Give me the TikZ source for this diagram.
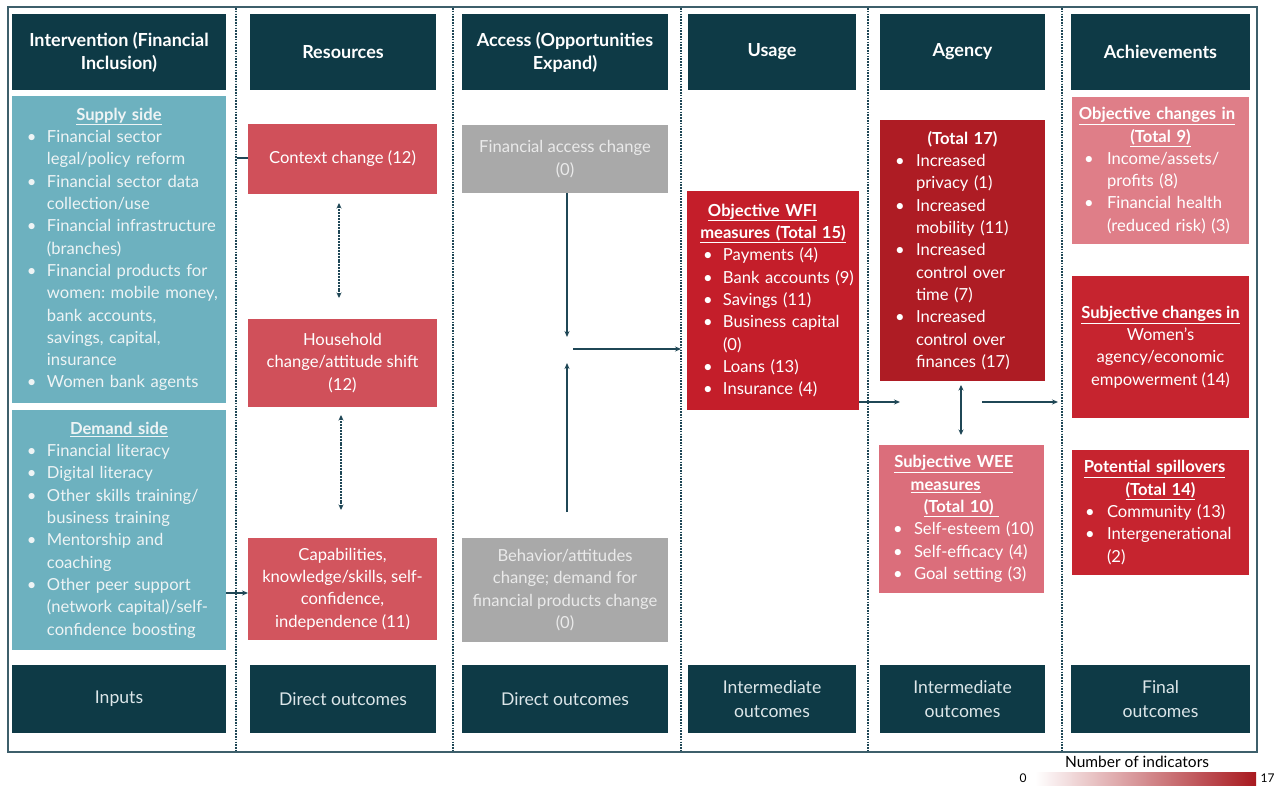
\documentclass[tikz,border=0pt]{standalone}
\usepackage{fontspec}
\setmainfont{Lato}
\usetikzlibrary{arrows.meta}
\definecolor{hdr}{HTML}{0E3A46}
\definecolor{tealc}{HTML}{6DB1BF}
\definecolor{tltxt}{HTML}{EEF4F5}
\definecolor{ftxt}{HTML}{DCE6E9}
\definecolor{rtwelve}{HTML}{D0505A}
\definecolor{releven}{HTML}{D2555E}
\definecolor{gry}{HTML}{A9A9A9}
\definecolor{gtxt}{HTML}{EAEAEA}
\definecolor{rfifteen}{HTML}{C41E2A}
\definecolor{rseventeen}{HTML}{AE1C24}
\definecolor{rten}{HTML}{DB6E7B}
\definecolor{rnine}{HTML}{DF7E88}
\definecolor{rfourteen}{HTML}{C6242F}
\definecolor{arrc}{HTML}{1F4756}
\definecolor{bordc}{HTML}{3D5F6B}
\definecolor{legred}{HTML}{A8191F}
\newlength\bulx
\newlength\txtx
\newcommand\nl{\hfil\break}
\newcommand\li[1]{\par\hangindent=\txtx\hangafter=1\noindent\hbox to\txtx{\hskip\bulx\textbullet\hss}#1}
\newcommand\ttl[1]{{\centering\bfseries #1\par}}
\begin{document}
\begin{tikzpicture}[x=1pt,y=-1pt,
  bx/.style={rectangle, inner sep=0pt, outer sep=0pt, text=white},
  hd/.style={bx, fill=hdr, minimum height=76pt, align=center, font=\bfseries\fontsize{18}{23}\selectfont},
  ft/.style={bx, fill=hdr, minimum height=68pt, align=center, text=ftxt, font=\fontsize{17.6}{24}\selectfont},
  lst/.style={bx, align=left, font=\fontsize{16.6}{22.3}\selectfont\setlength\parindent{0pt}\setlength\parskip{0pt}},
  ctr/.style={bx, align=center, font=\fontsize{16.6}{22.3}\selectfont},
  arw/.style={draw=arrc, line width=1.3pt, -{Stealth[length=6pt,width=5pt]}},
  darw/.style={draw=arrc, line width=1.4pt, {Stealth[length=5.5pt,width=5pt]}-{Stealth[length=5.5pt,width=5pt]}},
  dotarw/.style={draw=arrc, line width=1.8pt, dash pattern=on 2pt off 0.9pt, {Stealth[length=5.5pt,width=5pt]}-{Stealth[length=5.5pt,width=5pt]}},
  divl/.style={draw=arrc, line width=1.4pt, dash pattern=on 1.6pt off 1.2pt}
]
\useasboundingbox (0,0) rectangle (1276,785);
\fill[white] (0,0) rectangle (1276,785);
% outer border
\draw[bordc, line width=1.5pt] (8,7) rectangle (1257,752);
% dividers
\foreach \xx in {236,453,681,868,1062}{\draw[divl] (\xx,8) -- (\xx,751);}
% headers
\node[hd, minimum width=214pt] (h1) at (119,52) {Intervention (Financial\\Inclusion)};
\node[hd, minimum width=186pt] (h2) at (343,52) {Resources};
\node[hd, minimum width=206pt] (h3) at (565,52) {Access (Opportunities\\Expand)};
\node[hd, minimum width=168pt] (h4) at (772,52) {Usage};
\node[hd, minimum width=165pt] (h5) at (962.5,52) {Agency};
\node[hd, minimum width=179pt] (h6) at (1160.5,52) {Achievements};
% footers
\node[ft, minimum width=214pt] (f1) at (119,699) {Inputs};
\node[ft, minimum width=186pt] (f2) at (343,699) {Direct outcomes};
\node[ft, minimum width=206pt] (f3) at (565,699) {Direct outcomes};
\node[ft, minimum width=168pt] (f4) at (772,699) {Intermediate\\outcomes};
\node[ft, minimum width=165pt] (f5) at (962.5,699) {Intermediate\\outcomes};
\node[ft, minimum width=179pt] (f6) at (1160.5,699) {Final\\outcomes};
% intervention
\node[lst, fill=tealc, text=tltxt, text width=214pt, minimum height=307pt] (sup) at (119,249.5)
 {\setlength\bulx{15pt}\setlength\txtx{35pt}\ttl{\underline{Supply side}}%
  \li{Financial sector\nl legal/policy reform}%
  \li{Financial sector data\nl collection/use}%
  \li{Financial infrastructure\nl (branches)}%
  \li{Financial products for\nl women:\ mobile money,\nl bank accounts,\nl savings, capital,\nl insurance}%
  \li{Women bank agents}\par};
\node[lst, fill=tealc, text=tltxt, text width=214pt, minimum height=240pt] (dem) at (119,530)
 {\setlength\bulx{15pt}\setlength\txtx{35pt}\ttl{\underline{Demand side}}%
  \li{Financial literacy}%
  \li{Digital literacy}%
  \li{Other skills training/\nl business training}%
  \li{Mentorship and\nl coaching}%
  \li{Other peer support\nl (network capital)/self-\nl confidence boosting}\par};
% resources
\node[ctr, fill=rtwelve, minimum width=189pt, minimum height=70pt] (ctx) at (342.5,159) {Context change (12)};
\node[ctr, fill=rtwelve, minimum width=189pt, minimum height=88pt] (hh) at (342.5,363) {Household\\change/attitude shift\\(12)};
\node[ctr, fill=releven, minimum width=189pt, minimum height=102pt] (cap) at (342.5,589) {Capabilities,\\knowledge/skills, self-\\confidence,\\independence (11)};
% access
\node[ctr, fill=gry, text=gtxt, minimum width=206pt, minimum height=68pt] (fa) at (565,159) {Financial access change\\(0)};
\node[ctr, fill=gry, text=gtxt, minimum width=206pt, minimum height=104pt] (beh) at (565,590) {Behavior/attitudes\\change;\ demand for\\financial products change\\(0)};
% usage
\node[lst, fill=rfifteen, text width=172pt, minimum height=219pt] (wfi) at (773,300.5)
 {\setlength\bulx{16pt}\setlength\txtx{36pt}\ttl{\underline{Objective WFI}\nl\underline{measures (Total 15)}}%
  \li{Payments (4)}%
  \li{Bank accounts (9)}%
  \li{Savings (11)}%
  \li{Business capital\nl (0)}%
  \li{Loans (13)}%
  \li{Insurance (4)}\par};
% agency
\node[lst, fill=rseventeen, text width=165pt, minimum height=261pt] (tot) at (962.5,250.5)
 {\setlength\bulx{15pt}\setlength\txtx{36pt}\ttl{(Total 17)}%
  \li{Increased\nl privacy (1)}%
  \li{Increased\nl mobility (11)}%
  \li{Increased\nl control over\nl time (7)}%
  \li{Increased\nl control over\nl finances (17)}\par};
\node[lst, fill=rten, text width=165pt, minimum height=148pt] (wee) at (961.5,519)
 {\setlength\bulx{14pt}\setlength\txtx{35pt}\ttl{\underline{Subjective WEE}\nl\underline{measures}\nl\underline{(Total 10)\ }}%
  \li{Self-esteem (10)}%
  \li{Self-efficacy (4)}%
  \li{Goal setting (3)}\par};
% achievements
\node[lst, fill=rnine, text width=177pt, minimum height=147pt] (objc) at (1160.5,170.5)
 {\setlength\bulx{12pt}\setlength\txtx{35pt}\ttl{\underline{Objective changes in}\nl\underline{(Total 9)}}%
  \li{Income/assets/\nl profits (8)}%
  \li{Financial health\nl (reduced risk) (3)}\par};
\node[ctr, fill=rfourteen, minimum width=177pt, minimum height=142pt] (subc) at (1160.5,347)
 {\textbf{\underline{Subjective changes in}}\\Women's\\agency/economic\\empowerment (14)};
\node[lst, fill=rfourteen, text width=177pt, minimum height=125pt] (spill) at (1160.5,512.5)
 {\setlength\bulx{13pt}\setlength\txtx{35pt}\ttl{\underline{Potential spillovers}\nl\underline{(Total 14)}}%
  \li{Community (13)}%
  \li{Intergenerational\nl (2)}\par};
% connectors
\coordinate (c1) at (237,158);
\draw[draw=arrc, line width=1.3pt] (c1) -- (ctx.west |- c1);
\draw[arw] (dem.east |- 0,593) -- (cap.west |- 0,593);
\draw[dotarw] ([xshift=-3.5pt,yshift=-9pt]ctx.south) -- ([xshift=-3.5pt,yshift=21pt]hh.north);
\draw[dotarw] ([xshift=-1.5pt,yshift=-8pt]hh.south) -- ([xshift=-1.5pt,yshift=28pt]cap.north);
\coordinate (jup) at (567,337);
\coordinate (jdn) at (567,363);
\coordinate (jr) at (573,349);
\draw[arw] (fa.south -| jup) -- (jup);
\draw[arw] ([yshift=26pt]beh.north -| jdn) -- (jdn);
\draw[arw, shorten >=6pt] (jr) -- (wfi.west |- jr);
\coordinate (ag) at (900,402);
\draw[arw] (wfi.east |- ag) -- (ag);
\draw[darw] ([xshift=-1.5pt,yshift=-4pt]tot.south) -- ([xshift=-0.5pt,yshift=10pt]wee.north);
\coordinate (ag2) at (982,402);
\coordinate (ach) at (1058,402);
\draw[arw] (ag2) -- (ach);
% legend
\node[font=\fontsize{15.5}{17}\selectfont, text=black] (legt) at (1137,762) {Number of indicators};
\node[font=\fontsize{12}{14}\selectfont, text=black] (leg0) at (1023,778) {0};
\shade[left color=white, right color=legred] (1035,772) rectangle (1256,785);
\node[font=\fontsize{12}{14}\selectfont, text=black, anchor=west] (leg17) at (1257,778) {17};
\end{tikzpicture}
\end{document}
